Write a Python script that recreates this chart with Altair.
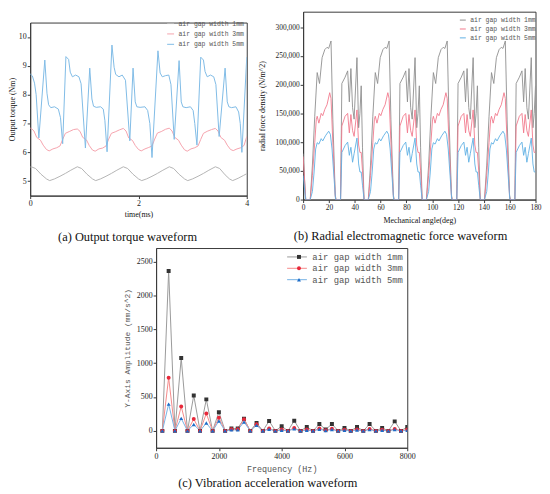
import altair as alt
import pandas as pd

SERIES = ["air gap width 1mm", "air gap width 3mm", "air gap width 5mm"]

# ---------------- (a) Output torque waveform : (time ms, torque Nm) ----------------
torque_1mm = [(0.00, 5.49), (0.02, 5.50), (0.10, 5.44), (0.20, 5.24), (0.30, 5.08), (0.36, 5.02),
              (0.45, 5.08), (0.55, 5.17), (0.65, 5.27), (0.75, 5.38), (0.87, 5.50), (0.95, 5.44),
              (1.05, 5.24), (1.15, 5.08), (1.21, 5.02), (1.30, 5.08), (1.40, 5.17), (1.50, 5.27),
              (1.60, 5.38), (1.72, 5.50), (1.80, 5.44), (1.90, 5.24), (2.00, 5.08), (2.06, 5.02),
              (2.15, 5.08), (2.25, 5.17), (2.35, 5.27), (2.45, 5.38), (2.57, 5.50), (2.65, 5.44),
              (2.75, 5.24), (2.85, 5.08), (2.91, 5.02), (3.00, 5.08), (3.10, 5.17), (3.20, 5.27),
              (3.30, 5.38), (3.42, 5.50), (3.50, 5.44), (3.60, 5.22), (3.68, 5.08), (3.74, 5.02),
              (3.84, 5.10), (3.94, 5.20), (4.00, 5.26)]

torque_3mm = [(0.00, 6.84), (0.02, 6.83), (0.07, 6.74), (0.12, 6.52), (0.19, 6.42), (0.24, 6.25),
              (0.30, 6.10), (0.35, 6.05), (0.42, 6.12), (0.49, 6.16), (0.55, 6.22), (0.60, 6.45),
              (0.65, 6.66), (0.72, 6.72), (0.80, 6.79),
              (0.87, 6.81), (0.92, 6.73), (0.97, 6.52), (1.04, 6.43), (1.09, 6.24), (1.15, 6.08),
              (1.20, 6.04), (1.27, 6.12), (1.34, 6.15), (1.40, 6.22), (1.45, 6.46), (1.50, 6.66),
              (1.57, 6.71), (1.65, 6.78),
              (1.72, 6.83), (1.77, 6.74), (1.82, 6.50), (1.89, 6.41), (1.94, 6.24), (2.00, 6.10),
              (2.05, 6.05), (2.12, 6.12), (2.19, 6.17), (2.25, 6.22), (2.30, 6.46), (2.35, 6.67),
              (2.42, 6.72), (2.50, 6.80),
              (2.57, 6.84), (2.62, 6.74), (2.67, 6.52), (2.74, 6.42), (2.79, 6.25), (2.85, 6.09),
              (2.90, 6.04), (2.97, 6.12), (3.04, 6.16), (3.10, 6.22), (3.15, 6.45), (3.20, 6.66),
              (3.27, 6.73), (3.35, 6.79),
              (3.42, 6.83), (3.47, 6.74), (3.52, 6.52), (3.59, 6.42), (3.64, 6.25), (3.70, 6.10),
              (3.75, 6.06), (3.82, 6.12), (3.89, 6.16), (3.95, 6.24), (4.00, 6.55)]

torque_5mm = [(0.00, 8.72), (0.04, 8.65), (0.08, 8.40), (0.11, 8.00), (0.16, 6.50), (0.27, 9.20),
              (0.31, 8.05), (0.34, 7.65), (0.38, 7.55), (0.45, 7.58), (0.52, 7.50), (0.56, 7.20),
              (0.60, 6.30), (0.66, 9.32), (0.71, 9.22), (0.74, 8.78), (0.78, 8.62), (0.84, 8.68),
              (0.90, 8.62), (0.94, 8.38), (1.02, 6.15), (1.10, 8.92), (1.14, 7.85), (1.17, 7.60),
              (1.22, 7.56), (1.30, 7.58), (1.35, 7.50), (1.38, 7.10), (1.42, 6.02), (1.51, 9.72),
              (1.55, 8.95), (1.58, 8.70), (1.64, 8.62), (1.70, 8.68), (1.76, 8.50), (1.84, 6.40),
              (1.90, 8.92), (1.94, 7.75), (1.97, 7.58), (2.03, 7.56), (2.12, 7.58), (2.17, 7.45),
              (2.21, 7.00), (2.25, 5.82), (2.36, 9.52), (2.40, 8.75), (2.44, 8.62), (2.50, 8.66),
              (2.56, 8.68), (2.60, 8.35), (2.66, 6.45), (2.75, 9.18), (2.79, 7.75), (2.82, 7.58),
              (2.88, 7.55), (2.96, 7.58), (3.01, 7.45), (3.04, 7.00), (3.08, 6.25), (3.15, 9.30),
              (3.20, 9.20), (3.23, 8.80), (3.27, 8.62), (3.33, 8.68), (3.39, 8.62), (3.43, 8.35),
              (3.49, 6.55), (3.60, 8.92), (3.64, 7.75), (3.67, 7.58), (3.72, 7.55), (3.80, 7.58),
              (3.85, 7.40), (3.88, 7.00), (3.91, 6.00), (4.00, 9.30)]

# ---------------- (b) Radial force density : hump shapes ----------------
# (offset deg from hump start, N/m^2)
hump_a_1mm = [(0, 0), (1.7, 60000), (3.5, 145000), (5.4, 221000), (7.2, 202000), (9.2, 247000),
              (11.3, 261000), (13.0, 265000), (14.3, 263000), (16.1, 276000), (17.5, 140000),
              (19.4, 8000), (20.0, 0)]
hump_a_3mm = [(0, 0), (1.7, 42000), (3.5, 99000), (4.7, 139000), (5.4, 145000), (6.7, 133000),
              (8.5, 150000), (9.7, 146000), (11.3, 157000), (13.0, 165000), (15.1, 186000),
              (16.1, 176000), (17.5, 100000), (19.4, 5000), (20.0, 0)]
hump_a_5mm = [(0, 0), (1.7, 14000), (3.0, 48000), (4.2, 88000), (5.4, 99000), (6.7, 96500),
              (8.5, 106000), (9.7, 102000), (11.8, 111000), (14.3, 119000), (15.6, 113600),
              (16.9, 88000), (19.0, 20000), (19.6, 0)]
hump_b_1mm = [(0, 0), (1.0, 202000), (3.5, 213000), (5.5, 224000), (6.8, 170000), (8.0, 228000),
              (9.3, 160000), (10.5, 140000), (12.7, 247000), (14.0, 125000), (15.0, 150000),
              (16.0, 198000), (17.0, 90000), (18.2, 0)]
hump_b_3mm = [(0, 0), (1.0, 128000), (3.5, 145000), (5.5, 150000), (6.8, 116000), (8.0, 148000),
              (9.3, 120000), (10.5, 110000), (12.7, 156000), (14.0, 95000), (15.0, 82000),
              (16.0, 82000), (17.0, 50000), (18.2, 0)]
hump_b_5mm = [(0, 0), (1.0, 82000), (3.5, 94000), (5.5, 100000), (6.8, 77000), (8.0, 91000),
              (9.3, 65000), (10.5, 80000), (12.7, 107000), (14.0, 62000), (15.0, 48000),
              (16.0, 48000), (17.0, 25000), (18.2, 0)]
start_tail = {"1mm": [(0, 80000), (2.0, 0)], "3mm": [(0, 75000), (2.0, 0)], "5mm": [(0, 42000), (2.0, 0)]}
hump_a_starts = [5.5, 50.5, 95.5, 140.5]
hump_b_starts = [29.0, 74.0, 119.0, 164.0]

# ---------------- (c) Vibration acceleration spectrum ----------------
freq = [200, 400, 600, 800, 1000, 1200, 1400, 1600, 1800, 2000, 2200, 2400, 2600, 2800, 3000,
        3200, 3400, 3600, 3800, 4000, 4200, 4400, 4600, 4800, 5000, 5200, 5400, 5600, 5800, 6000,
        6200, 6400, 6600, 6800, 7000, 7200, 7400, 7600, 7800, 8000]
amp_1mm = [0, 2360, 0, 1075, 0, 523, 0, 465, 0, 276, 0, 35, 35, 180, 0,
           116, 0, 145, 0, 68, 0, 150, 0, 58, 0, 100, 20, 100, 0, 44,
           0, 58, 0, 100, 0, 44, 0, 140, 0, 58]
amp_3mm = [0, 785, 0, 360, 0, 175, 0, 255, 0, 195, 0, 25, 25, 170, 0,
           97, 0, 34, 0, 20, 0, 44, 0, 19, 0, 34, 10, 30, 0, 15,
           0, 22, 0, 29, 0, 15, 0, 29, 0, 20]
amp_5mm = [0, 395, 0, 184, 0, 95, 0, 115, 0, 145, 0, 15, 15, 130, 0,
           82, 0, 24, 0, 10, 0, 29, 0, 10, 0, 24, 5, 20, 0, 8,
           0, 12, 0, 18, 0, 8, 0, 19, 0, 10]

COL_A = ["#b4b4b4", "#f5a3ad", "#7fbbe6"]
COL_B = ["#8e8e8e", "#f2798c", "#5fb0e4"]
COL_C_LINE = ["#9a9a9a", "#f58a8a", "#76b2e4"]
COL_C_PT = ["#333333", "#e8283a", "#1c6cc8"]

SERIF = "Liberation Serif"
MONO = "Liberation Mono"

# ---------------- build tables ----------------
rows = []
for name, pts in zip(SERIES, [torque_1mm, torque_3mm, torque_5mm]):
    for t, v in pts:
        rows.append({"t": t, "v": v, "series": name})
df_a = pd.DataFrame(rows)

rows = []
for name, key, ha, hb in zip(SERIES, ["1mm", "3mm", "5mm"],
                             [hump_a_1mm, hump_a_3mm, hump_a_5mm],
                             [hump_b_1mm, hump_b_3mm, hump_b_5mm]):
    pts = list(start_tail[key])
    for s in hump_a_starts:
        pts += [(s + o, v) for o, v in ha]
    for s in hump_b_starts:
        pts += [(s + o, v) for o, v in hb if s + o <= 180.0001]
    pts.sort(key=lambda p: p[0])
    for d, v in pts:
        rows.append({"deg": d, "v": v, "series_b": name})
df_b = pd.DataFrame(rows)

# marker legend uses its own domain so it is not merged with the line legend
SERIES_PT = [s + " " for s in SERIES]
rows = []
for name, pname, amps in zip(SERIES, SERIES_PT, [amp_1mm, amp_3mm, amp_5mm]):
    for f, a in zip(freq, amps):
        rows.append({"f": f, "v": a, "series_c": name, "series_pt": pname})
df_c = pd.DataFrame(rows)


def ax(title, values, fmt=None, lab_size=8, title_font=SERIF, title_size=8, tick=3,
       lab_pad=1, title_pad=3, title_color="#111"):
    kw = dict(title=title, values=values, grid=False, tickSize=tick, labelPadding=lab_pad,
              titlePadding=title_pad, labelFont=SERIF, labelFontSize=lab_size, labelColor="#222",
              titleFont=title_font, titleFontSize=title_size, titleFontWeight="normal",
              titleColor=title_color, domainColor="#3a3a3a", tickColor="#3a3a3a",
              labelFlush=False, labelOverlap=False)
    if fmt:
        kw["format"] = fmt
    return alt.Axis(**kw)


# ---------------- panel (a) ----------------
# (legend position is relative to the column that also holds the spacer strip above the panel)
panel_a = alt.Chart(df_a).mark_line(strokeWidth=1, clip=True).encode(
    x=alt.X("t:Q", scale=alt.Scale(domain=[0, 4], nice=False, zero=False),
            axis=ax("time(ms)", [0, 2, 4], title_pad=3)),
    y=alt.Y("v:Q", scale=alt.Scale(domain=[4.5, 10.5], nice=False, zero=False),
            axis=ax("Output torque (Nm)", [5, 6, 7, 8, 9, 10], title_pad=1.5)),
    color=alt.Color("series:N", scale=alt.Scale(domain=SERIES, range=COL_A),
                    legend=alt.Legend(orient="none", legendX=138, legendY=8, title=None,
                                      symbolType="stroke", symbolSize=49, symbolStrokeWidth=1,
                                      labelFont=MONO, labelFontSize=6.5, labelColor="#555",
                                      rowPadding=2.5, labelOffset=4, padding=0)),
).properties(
    width=219, height=175,
    title=alt.TitleParams("(a) Output torque waveform", orient="bottom", frame="group",
                          font=SERIF, fontSize=12.5, fontWeight="normal", color="#111",
                          offset=13, dx=-11))

# invisible strip that lowers panel (a) relative to panel (b), as in the figure
spacer = alt.Chart(pd.DataFrame({"s": [0]})).mark_point(opacity=0, size=1).encode(
    x=alt.value(0), y=alt.value(0)
).properties(width=10, height=1, view=alt.ViewBackground(stroke="transparent"))
col_a = alt.vconcat(spacer, panel_a, spacing=8)

# ---------------- panel (b) ----------------
panel_b = alt.Chart(df_b).mark_line(strokeWidth=0.9, clip=True).encode(
    x=alt.X("deg:Q", scale=alt.Scale(domain=[0, 180], nice=False, zero=False),
            axis=ax("Mechanical angle(deg)", list(range(0, 181, 20)), lab_size=7.5, title_pad=5,
                    lab_pad=1.5)),
    y=alt.Y("v:Q", scale=alt.Scale(domain=[0, 327000], nice=False, zero=False),
            axis=ax("radial force density (N/m^2)", list(range(0, 300001, 50000)), fmt=",d",
                    lab_size=7.5, title_pad=9)),
    color=alt.Color("series_b:N", scale=alt.Scale(domain=SERIES, range=COL_B),
                    legend=alt.Legend(orient="none", legendX=158, legendY=5, title=None,
                                      symbolType="stroke", symbolSize=36, symbolStrokeWidth=1,
                                      labelFont=MONO, labelFontSize=6.5, labelColor="#555",
                                      rowPadding=2, labelOffset=4, padding=0)),
).properties(
    width=235, height=190,
    title=alt.TitleParams("(b) Radial electromagnetic force waveform", orient="bottom",
                          frame="group", font=SERIF, fontSize=12.5, fontWeight="normal",
                          color="#111", offset=6, dx=-19))

# ---------------- panel (c) ----------------
xs_c = alt.X("f:Q", scale=alt.Scale(domain=[0, 8000], nice=False, zero=False),
             axis=ax("Frequency  (Hz)", [0, 2000, 4000, 6000, 8000], fmt="d", lab_size=8,
                     title_font=MONO, title_size=8.5, lab_pad=2, title_pad=4, title_color="#555"))
ys_c = alt.Y("v:Q", scale=alt.Scale(domain=[-250, 2700], nice=False, zero=False),
             axis=ax("Y-Axis Amplitude (mm/s^2)", [0, 500, 1000, 1500, 2000, 2500], fmt="d",
                     lab_size=8, title_font=MONO, title_size=8, title_pad=5, title_color="#555"))
lines_c = alt.Chart(df_c).mark_line(strokeWidth=1, clip=True).encode(
    x=xs_c, y=ys_c,
    color=alt.Color("series_c:N", scale=alt.Scale(domain=SERIES, range=COL_C_LINE),
                    legend=alt.Legend(orient="none", legendX=138, legendY=4.5, title=None,
                                      symbolType="M-2.5,0H2.5", symbolSize=64, symbolStrokeWidth=1,
                                      labelFont=MONO, labelFontSize=9, labelColor="#555",
                                      rowPadding=1.5, labelOffset=11, padding=0)),
)
pt_legend = alt.Legend(orient="none", legendX=140, legendY=4.5, title=None, symbolSize=16,
                       symbolStrokeWidth=0, labelFont=MONO, labelFontSize=9, labelExpr="''",
                       rowPadding=1.5, labelOffset=11, padding=0)
points_c = alt.Chart(df_c).mark_point(filled=True, size=16, opacity=1, strokeWidth=0, clip=True).encode(
    x=xs_c, y=ys_c,
    fill=alt.Fill("series_pt:N", scale=alt.Scale(domain=SERIES_PT, range=COL_C_PT), legend=pt_legend),
    shape=alt.Shape("series_pt:N", scale=alt.Scale(domain=SERIES_PT, range=["square", "circle", "triangle-up"]),
                    legend=pt_legend),
)
panel_c = alt.layer(lines_c, points_c).properties(
    width=254, height=202,
    title=alt.TitleParams("(c) Vibration acceleration waveform", orient="bottom", frame="group",
                          font=SERIF, fontSize=12.5, fontWeight="normal", color="#111",
                          offset=4, dx=-14))

top = alt.hconcat(col_a, panel_b, spacing=8).resolve_scale(
    color="independent").resolve_legend(color="independent")
chart = alt.vconcat(top, panel_c, spacing=3, center=True).resolve_scale(
    color="independent", fill="independent", shape="independent").resolve_legend(
    color="independent", fill="independent", shape="independent").properties(
    padding={"left": 0, "top": 0, "right": 0, "bottom": 0}
).configure_view(stroke="#3a3a3a", strokeWidth=1)

chart.save("out.html", embed_options={"renderer": "svg", "actions": False})
